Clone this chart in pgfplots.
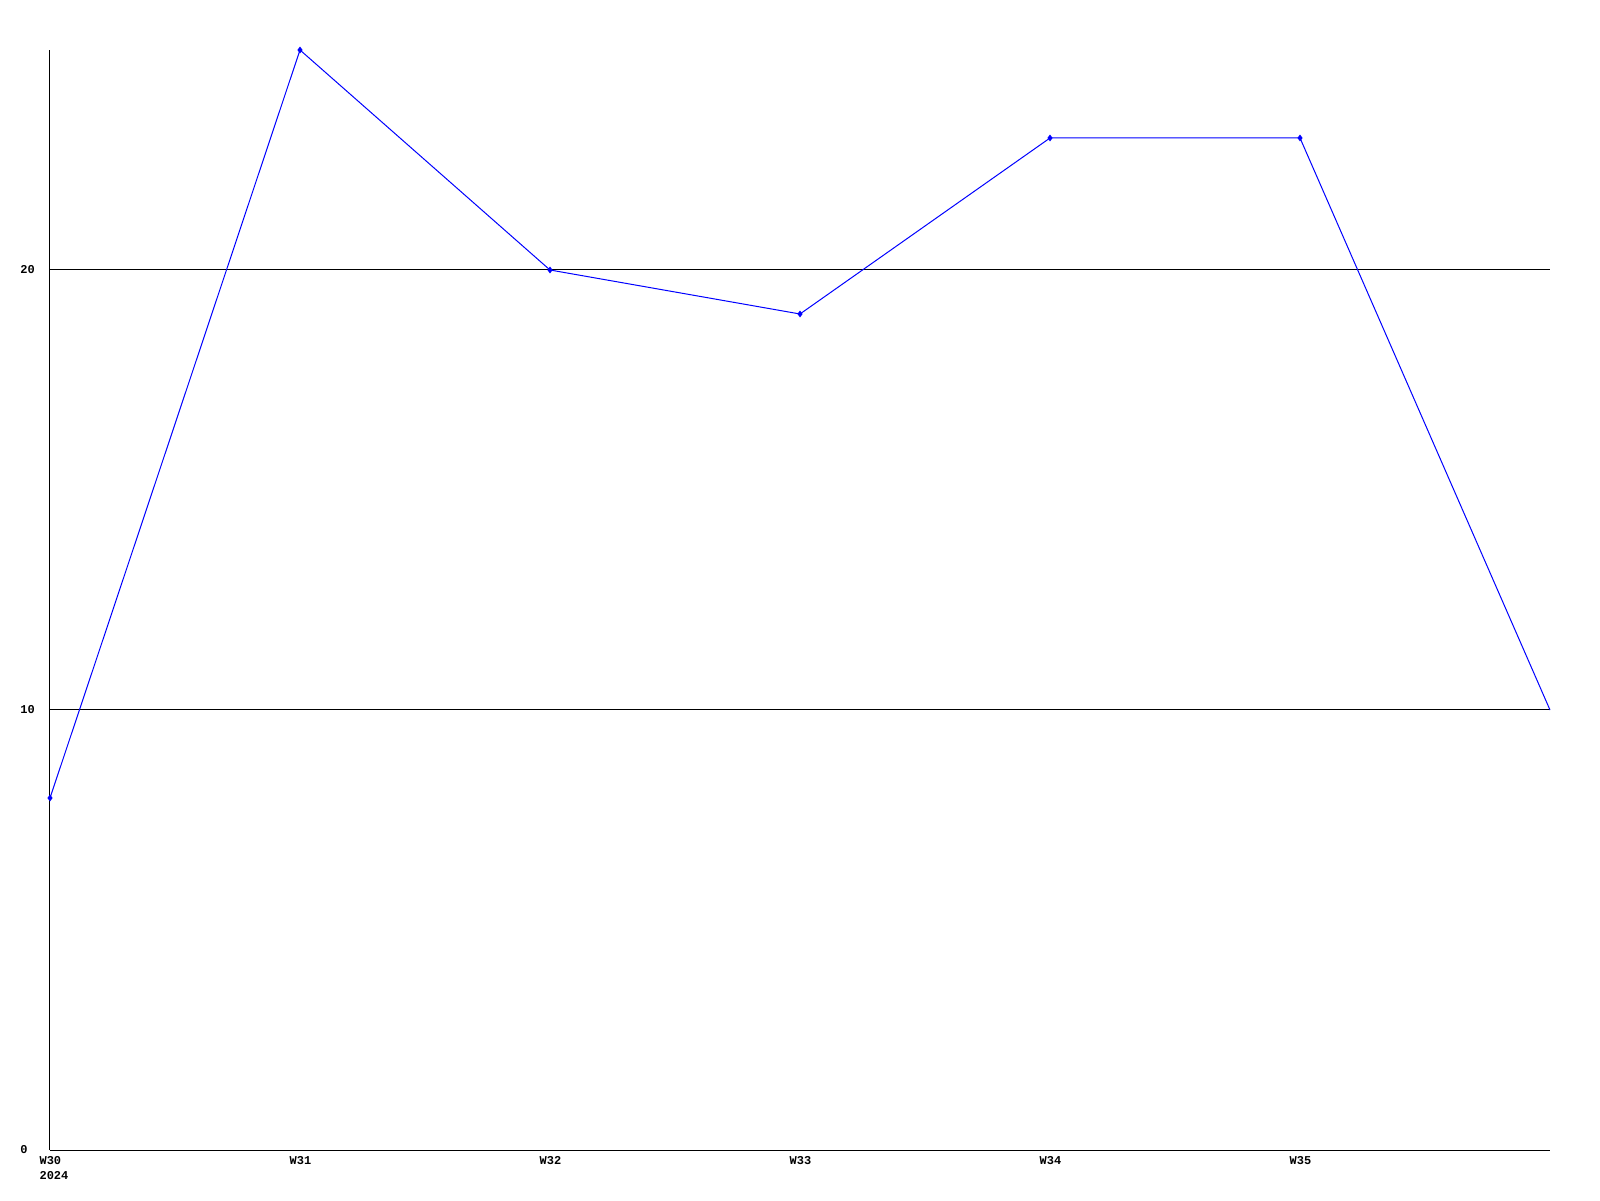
\documentclass[border=0pt]{standalone}
\usepackage{fontspec}
\setmainfont{Liberation Mono}
\usepackage{pgfplots}
\pgfplotsset{compat=1.18}
\begin{document}
\begin{tikzpicture}
\begin{axis}[
  scale only axis,
  width=750pt, height=550pt,
  xmin=0, xmax=6, ymin=0, ymax=25,
  axis lines=left,
  axis line style={black, line width=0.5pt, -},
  xtick={0,1,2,3,4,5},
  xticklabels={{W30\\2024},W31,W32,W33,W34,W35},
  ytick={0,10,20},
  major tick length=0pt,
  ymajorgrids,
  grid style={black, line width=0.5pt},
  tick label style={font=\fontsize{6}{7.7}\selectfont\bfseries},
  /pgf/number format/assume math mode=true,
  xticklabel style={anchor=north west, inner sep=0pt, yshift=-3pt, xshift=-5.4pt, align=left},
  yticklabel style={anchor=west, inner sep=0pt, xshift=-15pt},
  clip=false,
]
\addplot[blue, line width=0.5pt, mark=diamond*, mark size=1.3pt, mark indices={1,2,3,4,5,6}] coordinates {
  (0,8) (1,25) (2,20) (3,19) (4,23) (5,23) (6,10)
};
\end{axis}
\pgfresetboundingbox
\path[use as bounding box] ([shift={(-25pt,-25pt)}]current axis.south west) rectangle ([shift={(25pt,25pt)}]current axis.north east);
\end{tikzpicture}
\end{document}
